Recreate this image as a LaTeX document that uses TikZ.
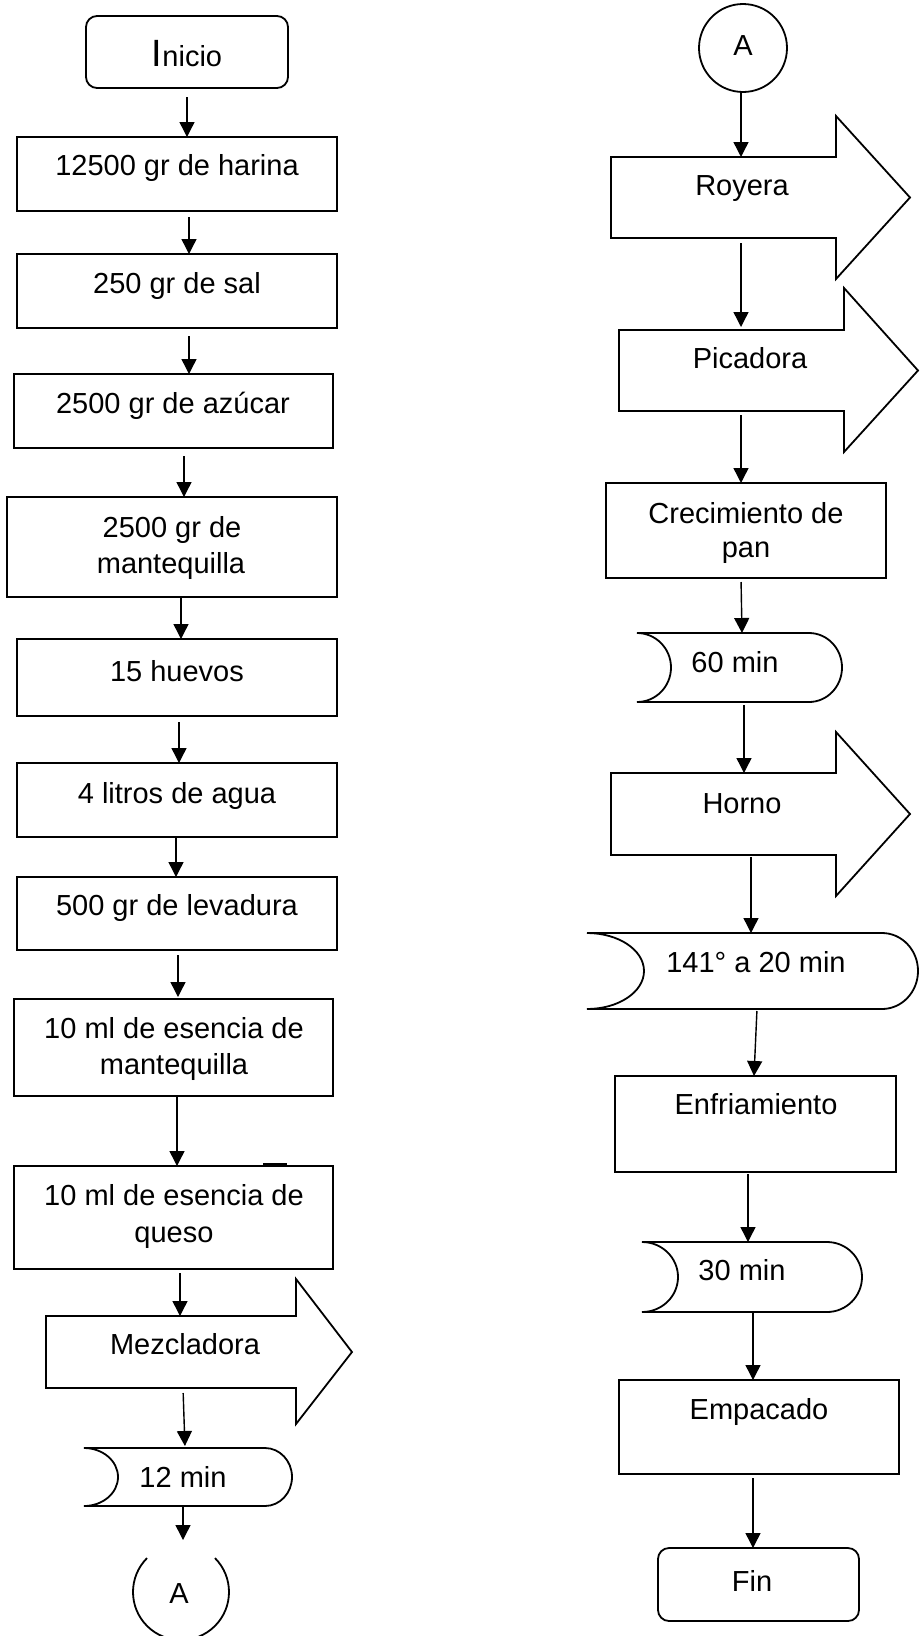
\documentclass[tikz,border=0pt]{standalone}
\usepackage{fontspec}
\setmainfont{Liberation Sans}
\usetikzlibrary{arrows.meta,calc}
\tikzset{
 shp/.style={line width=1.8pt, line join=miter},
 box/.style={draw, line width=1.8pt, rectangle, inner sep=0pt, outer sep=0pt},
 rbox/.style={box, rounded corners=11pt},
 ghost/.style={draw=none, rectangle, inner sep=0pt, outer sep=0pt},
 txt/.style={anchor=base, inner sep=0pt, outer sep=0pt, font=\fontsize{29}{34}\selectfont},
 arr/.style={line width=1.4pt, -{Triangle[length=15pt,width=15pt]}},
}
\newcommand\procpath[4]{\draw[shp] (#1.north west) -- (#1.north east) -- ++(0,#2) -- (#1.east -| #3,0) -- ($(#1.south east)+(0,-#4)$) -- (#1.south east) -- (#1.south west) -- cycle;}
\newcommand\delaypath[4]{\draw[shp] (#1.north west) arc[start angle=90,end angle=-90,x radius=#2pt,y radius=#4pt] -- ($(#1.south east)+(-#3,0)$) arc[start angle=-90,end angle=90,x radius=#3pt,y radius=#4pt] -- cycle;}
\begin{document}
\begin{tikzpicture}[x=1pt,y=1pt]
\useasboundingbox (0,0) rectangle (919,-1636);
% ---------- left column ----------
\node[rbox, minimum width=202pt, minimum height=72pt] (inicio) at (187,-52) {};
\node[txt] (tinicio) at (187,-66) {{\fontsize{38}{40}\selectfont I}nicio};
\node[box, minimum width=320pt, minimum height=74pt] (harina) at (177,-174) {};
\node[txt] (tharina) at (177,-175) {12500 gr de harina};
\node[box, minimum width=320pt, minimum height=74pt] (sal) at (177,-291) {};
\node[txt] (tsal) at (177,-293) {250 gr de sal};
\node[box, minimum width=319pt, minimum height=74pt] (azucar) at (173.5,-411) {};
\node[txt] (tazucar) at (173,-413) {2500 gr de azúcar};
\node[box, minimum width=330pt, minimum height=100pt] (mant) at (172,-547) {};
\node[txt] (tmant1) at (172,-537) {2500 gr de};
\node[txt] (tmant2) at (171,-573) {mantequilla};
\node[box, minimum width=320pt, minimum height=77pt] (huevos) at (177,-677.5) {};
\node[txt] (thuevos) at (177,-681) {15 huevos};
\node[box, minimum width=320pt, minimum height=74pt] (agua) at (177,-800) {};
\node[txt] (tagua) at (177,-803) {4 litros de agua};
\node[box, minimum width=320pt, minimum height=73pt] (levadura) at (177,-913.5) {};
\node[txt] (tlevadura) at (177,-915) {500 gr de levadura};
\node[box, minimum width=319pt, minimum height=97pt] (esmant) at (173.5,-1047.5) {};
\node[txt] (tesmant1) at (174,-1038) {10 ml de esencia de};
\node[txt] (tesmant2) at (174,-1074) {mantequilla};
\node[box, minimum width=319pt, minimum height=103pt] (esqueso) at (173.5,-1217.5) {};
\node[txt] (tesqueso1) at (174,-1205) {10 ml de esencia de};
\node[txt] (tesqueso2) at (174,-1242) {queso};
\draw[line width=2.5pt] (263,-1164) -- (287,-1164);
\node[ghost, minimum width=250pt, minimum height=72pt] (mez) at (171,-1352) {};
\procpath{mez}{37}{352}{36}
\node[txt] (tmez) at (185,-1354) {Mezcladora};
\node[ghost, minimum width=208pt, minimum height=58pt] (d12) at (188,-1477) {};
\delaypath{d12}{34}{27}{29}
\node[txt] (td12) at (183,-1487) {12 min};
\node[ghost, circle, minimum size=96pt] (A1) at (181,-1592) {};
\draw[shp] (A1.45) arc[start angle=45,end angle=-225,radius=48pt];
\node[txt] (tA1) at (179,-1603) {A};
% left arrows
\draw[arr, shorten <=9pt] (inicio.south -| 187,0) -- (harina.north -| 187,0);
\draw[arr, shorten <=6pt] (harina.south -| 189,0) -- (sal.north -| 189,0);
\draw[arr, shorten <=8pt] (sal.south -| 189,0) -- (azucar.north -| 189,0);
\draw[arr, shorten <=8pt] (azucar.south -| 184,0) -- (mant.north -| 184,0);
\draw[arr] (mant.south -| 181,0) -- (huevos.north -| 181,0);
\draw[arr, shorten <=6pt] (huevos.south -| 179,0) -- (agua.north -| 179,0);
\draw[arr] (agua.south -| 176,0) -- (levadura.north -| 176,0);
\draw[arr, shorten <=5pt, shorten >=2pt] (levadura.south -| 178,0) -- (esmant.north -| 178,0);
\draw[arr] (esmant.south -| 177,0) -- (esqueso.north -| 177,0);
\draw[arr, shorten <=4pt] (esqueso.south -| 180,0) -- (mez.north -| 180,0);
\draw[arr, shorten <=5pt, shorten >=2pt] (mez.south -| 183,0) -- (d12.north -| 185,0);
\draw[arr, shorten >=4pt] (d12.south -| 183,0) -- (A1.north -| 183,0);
% ---------- right column ----------
\node[box, circle, minimum size=88pt] (A2) at (743,-48) {};
\node[txt] (tA2) at (743,-55) {A};
\node[ghost, minimum width=225pt, minimum height=81pt] (royera) at (723.5,-197.5) {};
\procpath{royera}{41}{910}{41}
\node[txt] (troyera) at (742,-195) {Royera};
\node[ghost, minimum width=225pt, minimum height=81pt] (picadora) at (731.5,-370.5) {};
\procpath{picadora}{42}{918}{41}
\node[txt] (tpicadora) at (750,-368) {Picadora};
\node[box, minimum width=280pt, minimum height=95pt] (crec) at (746,-530.5) {};
\node[txt] (tcrec1) at (746,-523) {Crecimiento de};
\node[txt] (tcrec2) at (746,-557) {pan};
\node[ghost, minimum width=205pt, minimum height=69pt] (d60) at (739.5,-667.5) {};
\delaypath{d60}{34}{33}{34.5}
\node[txt] (td60) at (735,-672) {60 min};
\node[ghost, minimum width=225pt, minimum height=82pt] (horno) at (723.5,-814) {};
\procpath{horno}{41}{910}{41}
\node[txt] (thorno) at (742,-813) {Horno};
\node[ghost, minimum width=331pt, minimum height=76pt] (d141) at (752.5,-971) {};
\delaypath{d141}{57}{36}{38}
\node[txt] (td141) at (756,-972) {141° a 20 min};
\node[box, minimum width=281pt, minimum height=96pt] (enfr) at (755.5,-1124) {};
\node[txt] (tenfr) at (756,-1114) {Enfriamiento};
\node[ghost, minimum width=220pt, minimum height=70pt] (d30) at (752,-1277) {};
\delaypath{d30}{36}{35}{35}
\node[txt] (td30) at (742,-1280) {30 min};
\node[box, minimum width=280pt, minimum height=94pt] (emp) at (759,-1427) {};
\node[txt] (temp) at (759,-1419) {Empacado};
\node[rbox, minimum width=201pt, minimum height=73pt] (fin) at (758.5,-1584.5) {};
\node[txt] (tfin) at (752,-1591) {Fin};
% right arrows
\draw[arr] (A2.south -| 741,0) -- (royera.north -| 741,0);
\draw[arr, shorten <=5pt, shorten >=3pt] (royera.south -| 741,0) -- (picadora.north -| 741,0);
\draw[arr, shorten <=4pt] (picadora.south -| 741,0) -- (crec.north -| 741,0);
\draw[arr, shorten <=4pt] (crec.south -| 741,0) -- (d60.north -| 742,0);
\draw[arr, shorten <=3pt] (d60.south -| 744,0) -- (horno.north -| 744,0);
\draw[arr, shorten <=2pt] (horno.south -| 751,0) -- (d141.north -| 751,0);
\draw[arr, shorten <=2pt] (d141.south -| 757,0) -- (enfr.north -| 754,0);
\draw[arr, shorten <=2pt] (enfr.south -| 748,0) -- (d30.north -| 748,0);
\draw[arr] (d30.south -| 753,0) -- (emp.north -| 753,0);
\draw[arr, shorten <=4pt] (emp.south -| 753,0) -- (fin.north -| 753,0);
\end{tikzpicture}
\end{document}
